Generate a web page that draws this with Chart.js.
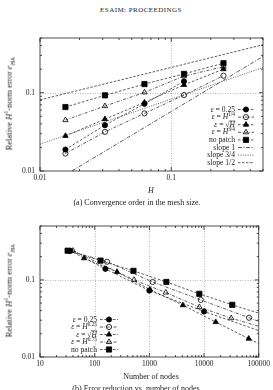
<!DOCTYPE html>
<html>
<head>
<meta charset="utf-8">
<script src="https://cdn.jsdelivr.net/npm/chart.js@4.4.1/dist/chart.umd.min.js"></script>
<style>
  body { margin: 0; width: 273px; height: 390px; background: #fff; position: relative; overflow: hidden;
         font-family: "Liberation Serif", serif; color: #222; }
  canvas { position: absolute; left: 0; }
  .txt { position: absolute; white-space: nowrap; transform: translate(-50%, -50%); line-height: 1; }
  .rot { transform: translate(-50%, -50%) rotate(-90deg); }
  sup, sub { font-size: 70%; line-height: 0; }
</style>
</head>
<body>
<div class="txt" style="left:141px;top:10px;font-size:7px;letter-spacing:0.45px">ESAIM: PROCEEDINGS</div>

<canvas id="chartA" width="273" height="190" style="top:0"></canvas>
<div class="txt rot" style="left:9px;top:104px;font-size:8.5px">Relative <i>H</i><sup>1</sup>-norm error <i>e</i><sub><i>HA</i></sub></div>
<div class="txt" style="left:151px;top:191px;font-size:8px"><i>H</i></div>
<div class="txt" style="left:137px;top:203px;font-size:8px">(a) Convergence order in the mesh size.</div>

<canvas id="chartB" width="273" height="200" style="top:190px"></canvas>
<div class="txt rot" style="left:9px;top:291px;font-size:8.5px">Relative <i>H</i><sup>1</sup>-norm error <i>e</i><sub><i>HA</i></sub></div>
<div class="txt" style="left:151px;top:377px;font-size:8px">Number of nodes</div>
<div class="txt" style="left:137px;top:389px;font-size:8px">(b) Error reduction vs. number of nodes.</div>

<script>
// ---- (a) error vs coarse mesh size H ----
const meshH = [1/64, 1/32, 1/16, 1/8, 1/4];
const errEps025 = [0.0188, 0.0385, 0.0722, 0.140];
const errEpsH14 = [0.0167, 0.0316, 0.0544, 0.0934, 0.165];
const errEpsSqrtH = [0.0281, 0.046, 0.075, 0.126, 0.200];
const errEpsH34 = [0.0447, 0.0675, 0.101, 0.163, 0.215];
const errNoPatch = [0.0656, 0.0926, 0.129, 0.174, 0.238];
// reference slope lines, end points
const slope1H = [0.0175, 0.5];
const slope1Err = [0.01, 0.29];
const slope34H = [0.01, 0.5];
const slope34Err = [0.022, 0.21];
const slope12H = [0.01, 0.5];
const slope12Err = [0.081, 0.41];
const ticksHx = [0.01, 0.1];
const ticksErr = [0.01, 0.1];

// ---- (b) error vs number of nodes ----
const nodesEps025 = [35, 157, 1000, 10000];
const errNEps025 = [0.239, 0.139, 0.0727, 0.0389];
const nodesEpsH025 = [36, 168, 1150, 8700, 66500];
const errNEpsH025 = [0.237, 0.172, 0.094, 0.055, 0.0323];
const nodesEpsSqrtH = [64, 256, 1024, 4096, 16384, 65536];
const errNEpsSqrtH = [0.191, 0.127, 0.075, 0.047, 0.0284, 0.0173];
const nodesEpsH075 = [40, 525, 2000, 8200, 31300];
const errNEpsH075 = [0.239, 0.100, 0.0686, 0.0444, 0.0319];
const nodesNoPatch = [32, 128, 512, 2048, 8192, 32768];
const errNNoPatch = [0.239, 0.178, 0.131, 0.094, 0.066, 0.0475];
// where each trend line leaves the right edge (100000 nodes)
const tailNodes = 100000;
const tailErr = { eps025: 0.022, epsH025: 0.029, epsSqrtH: 0.0149, epsH075: 0.025, noPatch: 0.037 };
const ticksNodes = [10, 100, 1000, 10000, 100000];

const FONT = '"Liberation Serif", serif';
const pts = (xs, ys) => ys.map((y, i) => ({ x: xs[i], y: y }));

const FILLED_CIRCLE = { shape: 'circle', r: 2.6, fill: true };
const OPEN_CIRCLE = { shape: 'circle', r: 2.6, fill: false };
const FILLED_TRI = { shape: 'triangle', r: 3.1, fill: true };
const OPEN_TRI = { shape: 'triangle', r: 3.1, fill: false };
const FILLED_SQ = { shape: 'rect', r: 3.7, fill: true };

function series(label, xs, ys, mark, dash, tail) {
  const data = pts(xs, ys);
  if (tail !== undefined) data.push({ x: tailNodes, y: tail });
  return {
    label: label, data: data, markRadius: mark.r,
    borderColor: '#333', borderWidth: 0.8, borderDash: dash,
    pointStyle: mark.shape,
    pointRadius: c => c.dataIndex < ys.length ? mark.r : 0,
    pointHoverRadius: mark.r,
    pointBackgroundColor: mark.fill ? '#000' : 'rgba(0,0,0,0)',
    pointBorderColor: '#000', pointBorderWidth: 0.8,
    fill: false, tension: 0
  };
}
function refLine(label, xs, ys, dash) {
  return { label: label, data: pts(xs, ys), markRadius: 0, borderColor: '#333', borderWidth: 0.8, borderDash: dash,
           pointRadius: 0, fill: false };
}

function isDecade(v) { return Math.abs(Math.log10(v) - Math.round(Math.log10(v))) < 1e-6; }

function logAxis(min, max, labels, fit) {
  return {
    type: 'logarithmic', min: min, max: max,
    grid: { display: false, drawTicks: false }, border: { display: false },
    ticks: {
      autoSkip: false, maxRotation: 0, padding: fit.pad, color: '#222',
      font: { family: FONT, size: 7.5 },
      callback: v => { const t = labels.find(l => Math.abs(Math.log10(l / v)) < 1e-6); return t === undefined ? '' : String(t); }
    },
    afterFit: s => { if (fit.w) s.width = fit.w; if (fit.h) s.height = fit.h; }
  };
}

// dotted grid at decades, frame and inward gnuplot-like ticks
const frame = {
  id: 'frame',
  beforeDatasetsDraw(chart) {
    const { ctx, chartArea: a, scales: { x, y } } = chart;
    ctx.save();
    ctx.strokeStyle = '#888'; ctx.lineWidth = 0.6; ctx.setLineDash([1, 1.5]);
    decades(x).forEach(v => { const p = Math.round(x.getPixelForValue(v)) + 0.5; if (p > a.left + 1 && p < a.right - 1) line(ctx, p, a.top, p, a.bottom); });
    decades(y).forEach(v => { const p = Math.round(y.getPixelForValue(v)) + 0.5; if (p > a.top + 1 && p < a.bottom - 1) line(ctx, a.left, p, a.right, p); });
    ctx.restore();
  },
  afterDatasetsDraw(chart) {
    const { ctx, chartArea: a, scales: { x, y } } = chart;
    ctx.save();
    ctx.strokeStyle = '#222'; ctx.lineWidth = 0.8; ctx.setLineDash([]);
    ctx.strokeRect(a.left, a.top, a.right - a.left, a.bottom - a.top);
    logTicks(x).forEach(v => {
      const p = x.getPixelForValue(v), len = isDecade(v) ? 4 : 2;
      line(ctx, p, a.bottom, p, a.bottom - len); line(ctx, p, a.top, p, a.top + len);
    });
    logTicks(y).forEach(v => {
      const p = y.getPixelForValue(v), len = isDecade(v) ? 4 : 2;
      line(ctx, a.left, p, a.left + len, p); line(ctx, a.right, p, a.right - len, p);
    });
    ctx.restore();
  }
};
function line(ctx, x0, y0, x1, y1) { ctx.beginPath(); ctx.moveTo(x0, y0); ctx.lineTo(x1, y1); ctx.stroke(); }
function logTicks(s) {
  const out = [];
  for (let e = Math.floor(Math.log10(s.min)); e <= Math.ceil(Math.log10(s.max)); e++)
    for (let m = 1; m <= 9; m++) { const v = m * Math.pow(10, e); if (v >= s.min * 0.999 && v <= s.max * 1.001) out.push(v); }
  return out;
}
function decades(s) { return logTicks(s).filter(isDecade); }

// gnuplot-style key: right aligned text, then line sample with marker
function labelParts(s) {
  const out = []; const re = /(ε|√H|H\^[\d./]+|H)/g; let last = 0, m;
  while ((m = re.exec(s))) {
    if (m.index > last) out.push({ t: s.slice(last, m.index) });
    const tok = m[0];
    if (tok === 'ε') out.push({ t: 'ε', it: true });
    else if (tok === '√H') { out.push({ t: '√' }); out.push({ t: 'H', it: true, over: true }); }
    else if (tok.indexOf('H^') === 0) { out.push({ t: 'H', it: true }); out.push({ t: tok.slice(2), sup: true }); }
    else out.push({ t: 'H', it: true });
    last = re.lastIndex;
  }
  if (last < s.length) out.push({ t: s.slice(last) });
  return out;
}
const key = {
  id: 'key',
  afterDatasetsDraw(chart, args, o) {
    const ctx = chart.ctx;
    ctx.save();
    chart.data.datasets.forEach((ds, i) => {
      const yy = o.top + i * o.dy;
      const parts = labelParts(ds.label);
      const fontOf = p => (p.it ? 'italic ' : '') + (p.sup ? o.size * 0.7 : o.size) + 'px ' + FONT;
      let w = 0;
      parts.forEach(p => { ctx.font = fontOf(p); p.w = ctx.measureText(p.t).width; w += p.w; });
      let xx = o.right - w;
      ctx.fillStyle = '#222'; ctx.textBaseline = 'middle';
      parts.forEach(p => {
        ctx.font = fontOf(p);
        ctx.fillText(p.t, xx, p.sup ? yy - o.size * 0.38 : yy);
        if (p.over) { ctx.lineWidth = 0.5; ctx.strokeStyle = '#222'; ctx.setLineDash([]); line(ctx, xx - 0.5, yy - o.size * 0.5, xx + p.w, yy - o.size * 0.5); }
        xx += p.w;
      });
      ctx.strokeStyle = ds.borderColor; ctx.lineWidth = ds.borderWidth; ctx.setLineDash(ds.borderDash || []);
      line(ctx, o.sample[0], yy, o.sample[1], yy);
      ctx.setLineDash([]);
      if (ds.markRadius > 0) {
        ctx.fillStyle = ds.pointBackgroundColor; ctx.strokeStyle = ds.pointBorderColor; ctx.lineWidth = ds.pointBorderWidth;
        Chart.helpers.drawPoint(ctx, { pointStyle: ds.pointStyle, radius: ds.markRadius, rotation: 0, borderWidth: ds.pointBorderWidth },
          (o.sample[0] + o.sample[1]) / 2, yy);
      }
    });
    ctx.restore();
  }
};

const DASH = [2.5, 1.8];
const DASHDOT = [3, 1.5, 0.8, 1.5];

new Chart(document.getElementById('chartA'), {
  type: 'line',
  data: {
    datasets: [
      series('ε = 0.25', meshH, errEps025, FILLED_CIRCLE, DASH),
      series('ε = H^1/4', meshH, errEpsH14, OPEN_CIRCLE, DASHDOT),
      series('ε = √H', meshH, errEpsSqrtH, FILLED_TRI, DASH),
      series('ε = H^3/4', meshH, errEpsH34, OPEN_TRI, DASHDOT),
      series('no patch', meshH, errNoPatch, FILLED_SQ, DASH),
      refLine('slope 1', slope1H, slope1Err, [4, 1.5, 1, 1.5]),
      refLine('slope 3/4', slope34H, slope34Err, [1, 1.4]),
      refLine('slope 1/2', slope12H, slope12Err, [2.5, 1.5])
    ]
  },
  options: {
    responsive: false, animation: false, events: [],
    layout: { padding: { left: 0, right: 10, top: 38, bottom: 5 } },
    scales: {
      x: logAxis(0.01, 0.5, ticksHx, { h: 14, pad: 3 }),
      y: logAxis(0.01, 0.5, ticksErr, { w: 40, pad: 5 })
    },
    plugins: {
      legend: { display: false }, tooltip: { enabled: false },
      key: { right: 235, top: 109.5, dy: 7.6, size: 7.6, sample: [238, 254] }
    }
  },
  plugins: [frame, key]
});

new Chart(document.getElementById('chartB'), {
  type: 'line',
  data: {
    datasets: [
      series('ε = 0.25', nodesEps025, errNEps025, FILLED_CIRCLE, DASH, tailErr.eps025),
      series('ε = H^0.25', nodesEpsH025, errNEpsH025, OPEN_CIRCLE, DASHDOT, tailErr.epsH025),
      series('ε = √H', nodesEpsSqrtH, errNEpsSqrtH, FILLED_TRI, DASH, tailErr.epsSqrtH),
      series('ε = H^0.75', nodesEpsH075, errNEpsH075, OPEN_TRI, DASHDOT, tailErr.epsH075),
      series('no patch', nodesNoPatch, errNNoPatch, FILLED_SQ, DASH, tailErr.noPatch)
    ]
  },
  options: {
    responsive: false, animation: false, events: [],
    layout: { padding: { left: 0, right: 10, top: 36, bottom: 19 } },
    scales: {
      x: logAxis(10, 100000, ticksNodes, { h: 14, pad: 3 }),
      y: logAxis(0.01, 0.5, ticksErr, { w: 40, pad: 5 })
    },
    plugins: {
      legend: { display: false }, tooltip: { enabled: false },
      key: { right: 97, top: 129.5, dy: 7.5, size: 7.6, sample: [100, 118] }
    }
  },
  plugins: [frame, key]
});
</script>
</body>
</html>
